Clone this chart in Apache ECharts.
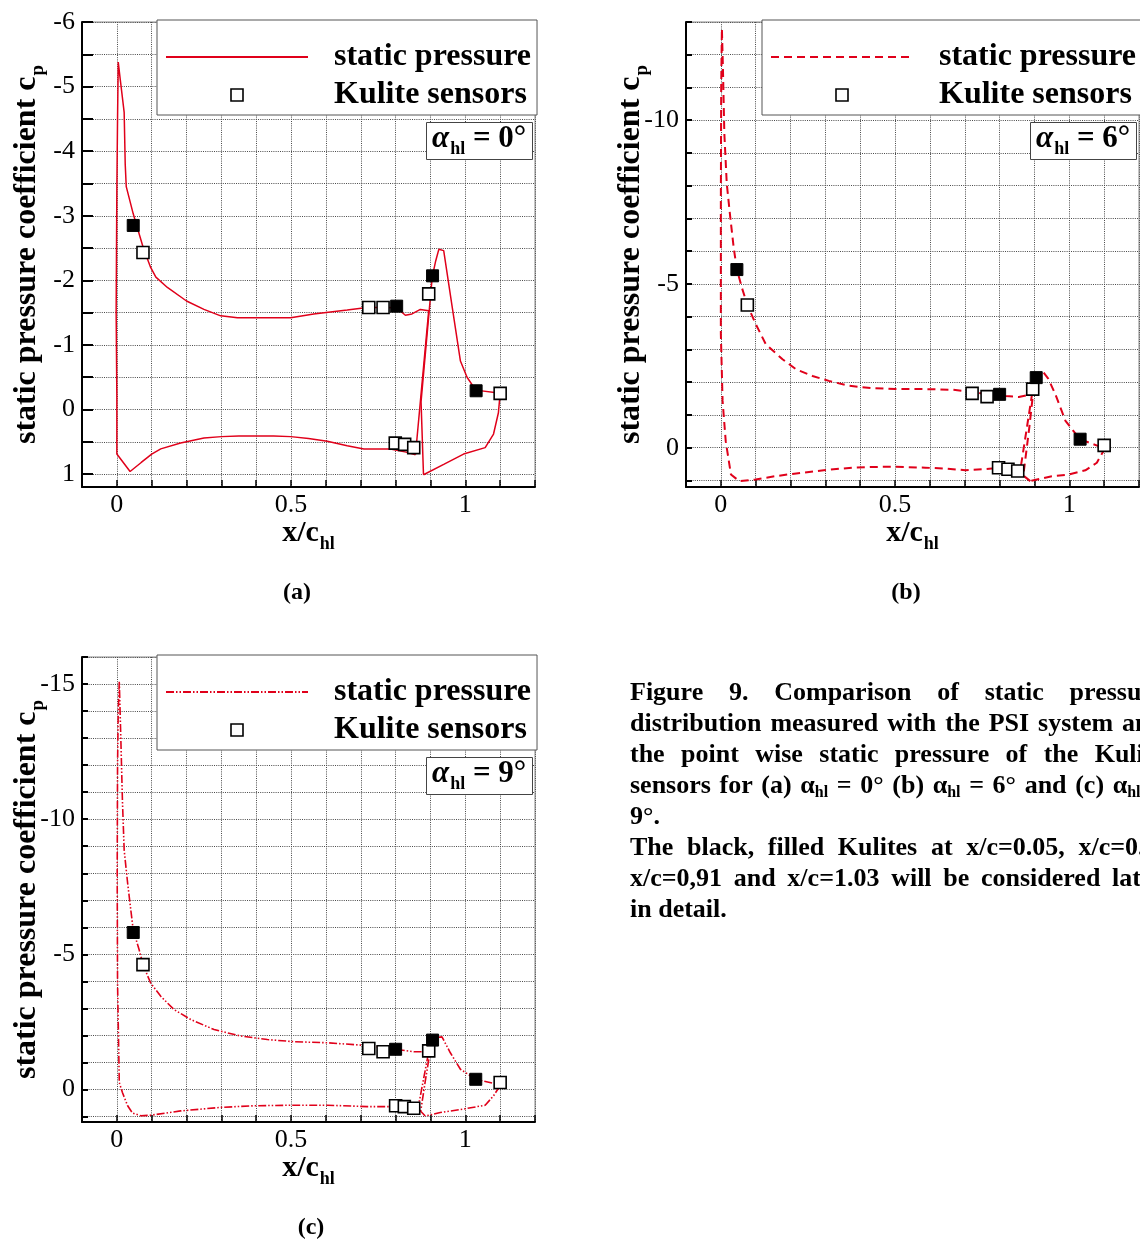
<!DOCTYPE html>
<html><head><meta charset="utf-8">
<script src="https://cdn.jsdelivr.net/npm/echarts@6/dist/echarts.min.js"></script>
<style>html,body{margin:0;padding:0;background:#fff}#c{width:1140px;height:1242px}</style>
</head><body><div id="c"></div>
<script>
const FONT = "'Liberation Serif','Times New Roman',Times,serif";
const RED = '#e0001a';

// ---------- Panel (a): alpha_hl = 0 deg ----------
const aMainX = [0.857,0.830,0.785,0.709,0.661,0.604,0.550,0.499,0.450,0.403,
  0.350,0.300,0.250,0.183,0.126,0.100,0.070,0.038,0.000,0.000,
  -0.002,0.000,0.002,0.004,0.010,0.021,0.024,0.027,0.047,0.076,
  0.097,0.112,0.145,0.200,0.250,0.298,0.346,0.403,0.499,0.565,
  0.661,0.718,0.776,0.804,0.828,0.847,0.871,0.895,0.857];
const aMainCp = [0.70,0.66,0.61,0.61,0.56,0.49,0.45,0.42,0.41,0.41,
  0.41,0.42,0.44,0.52,0.61,0.69,0.82,0.96,0.69,-0.20,
  -1.50,-3.40,-4.50,-5.38,-5.10,-4.60,-3.80,-3.45,-3.03,-2.50,
  -2.20,-2.05,-1.89,-1.68,-1.55,-1.45,-1.42,-1.42,-1.42,-1.48,
  -1.54,-1.58,-1.58,-1.57,-1.46,-1.48,-1.55,-1.53,0.70];
const aFlapX = [0.880,0.873,0.905,0.915,0.924,0.938,0.962,0.986,1.005,1.030,
  1.090,1.100,1.095,1.081,1.057,0.995,0.938,0.880];
const aFlapCp = [1.01,-0.12,-2.05,-2.30,-2.48,-2.46,-1.60,-0.75,-0.50,-0.30,
  -0.26,-0.25,0.05,0.38,0.59,0.69,0.85,1.01];
const aOpenX = [0.075,0.723,0.764,0.895,1.100,0.799,0.826,0.852];
const aOpenCp = [-2.43,-1.58,-1.58,-1.79,-0.25,0.52,0.54,0.59];
const aFillX = [0.047,0.803,0.906,1.031];
const aFillCp = [-2.85,-1.60,-2.07,-0.29];

// ---------- Panel (b): alpha_hl = 6 deg ----------
const bMainX = [0.858,0.852,0.824,0.797,0.750,0.702,0.650,0.587,0.492,0.430,
  0.377,0.301,0.205,0.150,0.100,0.053,0.029,0.014,0.005,0.000,
  0.000,0.001,0.003,0.006,0.010,0.017,0.027,0.037,0.046,0.060,
  0.076,0.100,0.129,0.177,0.215,0.263,0.310,0.368,0.435,0.501,
  0.587,0.664,0.721,0.764,0.817,0.855,0.893,0.858];
const bMainCp = [0.78,0.74,0.68,0.62,0.66,0.69,0.64,0.61,0.58,0.59,
  0.61,0.68,0.80,0.88,0.97,1.02,0.82,-0.20,-1.43,-3.47,
  -7.55,-11.0,-12.8,-11.6,-9.60,-8.06,-7.04,-6.10,-5.44,-4.90,
  -4.36,-3.78,-3.16,-2.70,-2.40,-2.19,-2.04,-1.89,-1.82,-1.79,
  -1.79,-1.77,-1.71,-1.63,-1.58,-1.55,-1.63,0.78];
const bFlapX = [0.888,0.868,0.885,0.897,0.905,0.926,0.940,0.960,0.989,1.030,
  1.084,1.100,1.098,1.079,1.046,0.998,0.950,0.888];
const bFlapCp = [1.02,0.85,-0.60,-1.75,-2.14,-2.30,-2.10,-1.63,-0.82,-0.26,
  -0.05,-0.07,0.10,0.46,0.69,0.82,0.87,1.02];
const bOpenX = [0.076,0.721,0.764,0.895,1.100,0.797,0.824,0.852];
const bOpenCp = [-4.36,-1.66,-1.56,-1.79,-0.07,0.61,0.66,0.71];
const bFillX = [0.046,0.800,0.905,1.031];
const bFillCp = [-5.44,-1.63,-2.14,-0.26];

// ---------- Panel (c): alpha_hl = 9 deg ----------
const cMainX = [0.862,0.852,0.800,0.718,0.604,0.500,0.394,0.298,0.183,0.097,
  0.069,0.045,0.031,0.016,0.007,0.002,0.001,0.002,0.004,0.007,
  0.011,0.016,0.021,0.031,0.040,0.047,0.064,0.075,0.097,0.126,
  0.164,0.212,0.279,0.355,0.432,0.508,0.604,0.718,0.800,0.852,
  0.895,0.862];
const cMainCp = [0.85,0.70,0.63,0.63,0.58,0.58,0.60,0.66,0.79,0.95,
  0.97,0.87,0.60,0.11,-0.26,-3.94,-8.00,-12.0,-14.0,-15.1,
  -13.2,-10.7,-8.86,-7.63,-6.65,-5.90,-5.17,-4.62,-3.94,-3.45,
  -2.96,-2.59,-2.22,-1.98,-1.85,-1.77,-1.73,-1.63,-1.49,-1.40,
  -1.40,0.85];
const cFlapX = [0.885,0.872,0.885,0.900,0.914,0.933,0.957,0.986,1.030,1.090,
  1.100,1.081,1.057,0.995,0.928,0.885];
const cFlapCp = [0.98,0.80,-0.30,-1.49,-1.92,-1.95,-1.36,-0.75,-0.38,-0.20,
  -0.14,0.23,0.58,0.72,0.85,0.98];
const cOpenX = [0.075,0.723,0.764,0.895,1.100,0.800,0.825,0.852];
const cOpenCp = [-4.62,-1.52,-1.40,-1.43,-0.26,0.60,0.63,0.69];
const cFillX = [0.047,0.800,0.906,1.030];
const cFillCp = [-5.81,-1.49,-1.83,-0.38];

// ---------- tick labels ----------
const xTickLabels = [0, 0.5, 1];
const aYTickLabels = [-6,-5,-4,-3,-2,-1,0,1];
const bYTickLabels = [-10,-5,0];
const cYTickLabels = [-15,-10,-5,0];
const angles = ['0°','6°','9°'];
const panelLabels = ['(a)','(b)','(c)'];

const captionLines = [
  {w:['Figure','9.','Comparison','of','static','pressure'], j:true},
  {w:['distribution','measured','with','the','PSI','system','and'], j:true},
  {w:['the','point','wise','static','pressure','of','the','Kulite'], j:true},
  {w:['sensors','for','(a)','α~hl','=','0°','(b)','α~hl','=','6°','and','(c)','α~hl','='], j:true},
  {w:['9°.'], j:false},
  {w:['The','black,','filled','Kulites','at','x/c=0.05,','x/c=0.8,'], j:true},
  {w:['x/c=0,91','and','x/c=1.03','will','be','considered','later'], j:true},
  {w:['in','detail.'], j:false}
];

// ---------- helpers ----------
const zip = (xs, ys) => xs.map((x, i) => [x, ys[i]]);
const near = (v, list) => list.some(t => Math.abs(v - t) < 1e-6);

const grids = [
  {left:82, top:22, width:453, height:465},
  {left:686, top:22, width:453, height:465},
  {left:82, top:657, width:453, height:465}
].map(g => Object.assign(g, {show:true, borderColor:'#888', borderWidth:1, backgroundColor:'transparent', containLabel:false, outerBoundsMode:'none'}));

const splitStyle = {show:true, lineStyle:{color:'#4a4a4a', width:1, type:[1,1.2]}};
const xNameRich = {
  m:{fontFamily:FONT, fontWeight:'bold', fontSize:30, color:'#000', lineHeight:32, verticalAlign:'top'},
  s:{fontFamily:FONT, fontWeight:'bold', fontSize:18, color:'#000', lineHeight:20, verticalAlign:'top', padding:[17,0,0,1]}
};
const yNameRich = {
  m:{fontFamily:FONT, fontWeight:'bold', fontSize:32, color:'#000', lineHeight:34, verticalAlign:'top'},
  s:{fontFamily:FONT, fontWeight:'bold', fontSize:19, color:'#000', lineHeight:20, verticalAlign:'top', padding:[18,0,0,1]}
};

function xAxis(idx){
  return {
    type:'value', gridIndex:idx, min:-0.1, max:1.2, interval:0.1,
    axisLine:{show:true, onZero:false, lineStyle:{color:'#000', width:2}},
    axisTick:{show:true, inside:true, length:7, lineStyle:{color:'#000', width:1.5}},
    axisLabel:{show:true, color:'#000', fontFamily:FONT, fontSize:26, margin:5,
      formatter: v => near(v, xTickLabels) ? String(+(+v).toFixed(1)) : ''},
    splitLine:splitStyle,
    name:'{m|x/c}{s|hl}', nameLocation:'middle', nameGap:31, nameMoveOverlap:false,
    nameTextStyle:{rich:xNameRich}
  };
}
function yAxis(idx, min, step, labels, tickLen){
  return {
    type:'value', gridIndex:idx, inverse:true, min:min, max:1.2, interval:step,
    axisLine:{show:true, onZero:false, lineStyle:{color:'#000', width:2}},
    axisTick:{show:true, inside:true, length:tickLen, lineStyle:{color:'#000', width:2}},
    axisLabel:{show:true, color:'#000', fontFamily:FONT, fontSize:26, margin:7,
      formatter: v => near(v, labels) ? String(Math.round(v)) : ''},
    splitLine:splitStyle,
    name:'{m|static pressure coefficient c}{s|p}', nameLocation:'middle', nameRotate:90, nameGap:37,
    nameMoveOverlap:false,
    nameTextStyle:{rich:yNameRich}
  };
}

function lineS(name, idx, xs, ys, type, width){
  return {type:'line', name, xAxisIndex:idx, yAxisIndex:idx, data:zip(xs, ys), symbol:'none', showSymbol:false,
    lineStyle:{color:RED, width, type}, itemStyle:{color:RED}, z:2, silent:true, animation:false, clip:true};
}
function openS(name, idx, xs, ys){
  return {type:'scatter', name, xAxisIndex:idx, yAxisIndex:idx, data:zip(xs, ys), symbol:'rect', symbolSize:12,
    itemStyle:{color:'#fff', borderColor:'#000', borderWidth:1.6, opacity:1}, z:4, silent:true, animation:false};
}
function fillS(name, idx, xs, ys){
  return {type:'scatter', name, xAxisIndex:idx, yAxisIndex:idx, data:zip(xs, ys), symbol:'rect', symbolSize:12,
    itemStyle:{color:'#000', borderColor:'#000', borderWidth:1, opacity:1}, z:5, silent:true, animation:false};
}
function legend(idx, left, top){
  return {
    orient:'vertical', left, top,
    data:[{name:'sp_'+idx, itemStyle:{opacity:0}},
      {name:'ks_'+idx, icon:'path://M0,0H10V10H0Z',
      itemStyle:{color:'#fff', borderColor:'#000', borderWidth:1.6}}],
    itemWidth:142, itemHeight:12, itemGap:0, symbolKeepAspect:true,
    padding:[18,6,1,8], backgroundColor:'#fff', borderColor:'#555', borderWidth:1,
    formatter: n => n.startsWith('sp') ? 'static pressure' : 'Kulite sensors',
    textStyle:{fontFamily:FONT, fontWeight:'bold', fontSize:32, color:'#000', lineHeight:38, padding:[0,0,0,21]},
    selectedMode:false, z:10
  };
}
const alphaRich = {
  a:{fontFamily:FONT, fontStyle:'italic', fontSize:31, color:'#000', lineHeight:32, verticalAlign:'top'},
  s:{fontFamily:FONT, fontWeight:'bold', fontSize:18, color:'#000', lineHeight:20, verticalAlign:'top', padding:[17,0,0,1]},
  b:{fontFamily:FONT, fontWeight:'bold', fontSize:31, color:'#000', lineHeight:32, verticalAlign:'top'}
};
function alphaBox(i, left, top){
  return {left, top, text:'{a|α}{s|hl}{b| = ' + angles[i] + '}', textStyle:{rich:alphaRich},
    backgroundColor:'#fff', borderColor:'#444', borderWidth:1, padding:[1,7,2,6], z:10};
}

// ---------- caption (justified) ----------
const capFont = 'bold 26px ' + FONT;
const subFont = 'bold 16px ' + FONT;
const mctx = document.createElement('canvas').getContext('2d');
function tw(t, f){ mctx.font = f; return mctx.measureText(t).width; }
function parts(word){
  const k = word.indexOf('~');
  return k < 0 ? [[word, 'n']] : [[word.slice(0, k), 'n'], [word.slice(k + 1), 's']];
}
function wordWidth(word){ return parts(word).reduce((s, p) => s + tw(p[0], p[1] === 's' ? subFont : capFont), 0); }
const capLeft = 630, capRight = 1164, capTop = 693, capStep = 31;
const graphics = [];
captionLines.forEach((ln, li) => {
  const y = capTop + li * capStep;
  const widths = ln.w.map(wordWidth);
  const total = widths.reduce((a, b) => a + b, 0);
  const gap = (ln.j && ln.w.length > 1) ? (capRight - capLeft - total) / (ln.w.length - 1) : tw(' ', capFont);
  let x = capLeft;
  ln.w.forEach((word) => {
    parts(word).forEach(p => {
      const f = p[1] === 's' ? subFont : capFont;
      graphics.push({type:'text', x, y: y + (p[1] === 's' ? 7 : 0), silent:true,
        style:{text:p[0], font:f, fill:'#000', textVerticalAlign:'middle', verticalAlign:'middle'}});
      x += tw(p[0], f);
    });
    x += gap;
  });
});
[[297, 593], [906, 593], [311, 1228]].forEach((p, i) => {
  graphics.push({type:'text', x:p[0], y:p[1], silent:true,
    style:{text:panelLabels[i], font:'bold 24px ' + FONT, fill:'#000', textAlign:'center', align:'center', textVerticalAlign:'middle', verticalAlign:'middle'}});
});

const option = {
  animation:false,
  backgroundColor:'#fff',
  grid:grids,
  xAxis:[xAxis(0), xAxis(1), xAxis(2)],
  yAxis:[yAxis(0, -6, 0.5, aYTickLabels, 11), yAxis(1, -13, 1, bYTickLabels, 6), yAxis(2, -16, 1, cYTickLabels, 6)],
  legend:[legend(0, 157, 20), legend(1, 762, 20), legend(2, 157, 655)],
  title:[alphaBox(0, 426, 122), alphaBox(1, 1030, 122), alphaBox(2, 426, 757)],
  graphic:graphics,
  series:[
    lineS('sp_0', 0, aMainX, aMainCp, 'solid', 1.5),
    lineS('sp_0', 0, aFlapX, aFlapCp, 'solid', 1.5),
    openS('ks_0', 0, aOpenX, aOpenCp),
    fillS('kf_0', 0, aFillX, aFillCp),
    lineS('sp_1', 1, bMainX, bMainCp, [8,5], 2),
    lineS('sp_1', 1, bFlapX, bFlapCp, [8,5], 2),
    openS('ks_1', 1, bOpenX, bOpenCp),
    fillS('kf_1', 1, bFillX, bFillCp),
    lineS('sp_2', 2, cMainX, cMainCp, [8,2,1.5,2,1.5,2], 1.6),
    lineS('sp_2', 2, cFlapX, cFlapCp, [8,2,1.5,2,1.5,2], 1.6),
    openS('ks_2', 2, cOpenX, cOpenCp),
    fillS('kf_2', 2, cFillX, cFillCp)
  ]
};
const chart = echarts.init(document.getElementById('c'), null, {renderer:'canvas'});
chart.setOption(option);
</script>
</body></html>
